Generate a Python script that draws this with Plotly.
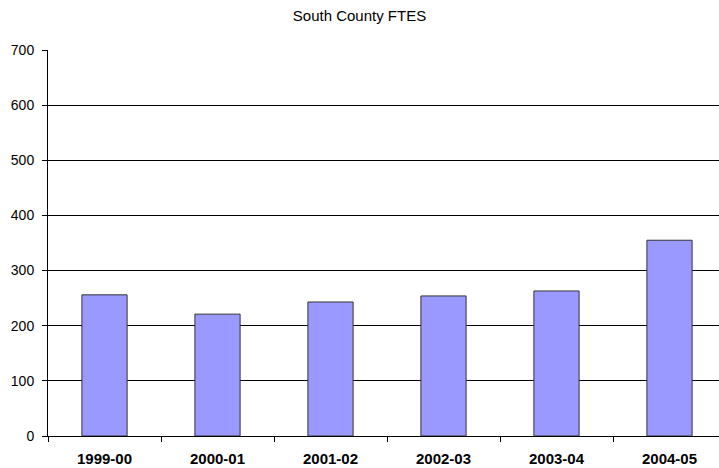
import plotly.graph_objects as go

# South County FTES by academic year
years = ["1999-00", "2000-01", "2001-02", "2002-03", "2003-04", "2004-05"]
ftes = [256, 221, 243, 254, 263, 355]

y_ticks = [0, 100, 200, 300, 400, 500, 600, 700]

fig = go.Figure(
    go.Bar(
        x=years,
        y=ftes,
        width=0.4,
        marker=dict(color="#9999FF", line=dict(color="#333333", width=1)),
    )
)

fig.update_layout(
    width=719,
    height=468,
    margin=dict(l=48, r=0, t=50, b=32),
    paper_bgcolor="white",
    plot_bgcolor="white",
    showlegend=False,
    font=dict(family="Arial, Liberation Sans, sans-serif", color="black"),
    title=dict(
        text="South County FTES",
        x=0.5,
        xanchor="center",
        y=1 - 16 / 468,
        yanchor="middle",
        font=dict(size=15, color="black"),
    ),
)

fig.update_xaxes(
    type="category",
    range=[-0.5, -0.5 + 671 / 113],
    showline=True,
    linecolor="black",
    linewidth=1,
    ticks="outside",
    tickson="boundaries",
    ticklen=5,
    tickcolor="black",
    ticklabelstandoff=9,
    tickfont=dict(size=15, color="black", weight="bold"),
    showgrid=False,
    zeroline=False,
)

fig.update_yaxes(
    range=[0, 700],
    tickvals=y_ticks,
    ticktext=[str(v) for v in y_ticks],
    showline=True,
    linecolor="black",
    linewidth=1,
    ticks="outside",
    ticklen=5,
    tickcolor="black",
    ticklabelstandoff=5,
    tickfont=dict(size=14, color="black"),
    showgrid=True,
    gridcolor="black",
    gridwidth=1,
    zeroline=False,
)

fig.write_html("out.html")
